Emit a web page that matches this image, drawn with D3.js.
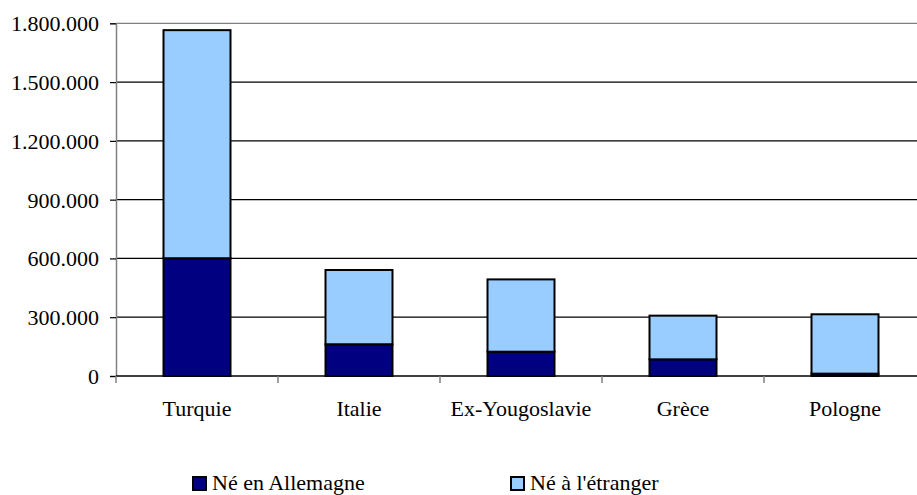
<!DOCTYPE html>
<html>
<head>
<meta charset="utf-8">
<script src="https://cdn.jsdelivr.net/npm/d3@7"></script>
<style>
  body { margin: 0; background: #fff; }
</style>
</head>
<body>
<div id="chart"></div>
<script>
const countries = ["Turquie", "Italie", "Ex-Yougoslavie", "Grèce", "Pologne"];
const bornGermany = [601000, 162000, 124000, 85000, 12000];
const bornAbroad = [1164000, 379000, 369000, 223000, 303000];
const seriesNames = ["Né en Allemagne", "Né à l'étranger"];
const seriesColors = ["#000080", "#99ccff"];
const yTicks = [0, 300000, 600000, 900000, 1200000, 1500000, 1800000];

const width = 917, height = 495;
const fontFamily = "Liberation Serif";
const fontSize = "22px";

const svg = d3.select("#chart")
    .append("svg")
    .attr("width", width)
    .attr("height", height);

const x = d3.scaleBand()
    .domain(countries)
    .range([116, 926])
    .paddingInner(0)
    .paddingOuter(0);

const y = d3.scaleLinear()
    .domain([0, 1800000])
    .range([376, 23.3]);

const fmt = (d) => d3.format(",")(d).replace(/,/g, ".");

// gridlines (top one is the grey plot border)
svg.append("g")
    .selectAll("line")
    .data(yTicks.slice(1))
    .enter()
    .append("line")
    .attr("x1", 116)
    .attr("x2", 926)
    .attr("y1", (d) => y(d))
    .attr("y2", (d) => y(d))
    .attr("stroke", (d) => d === 1800000 ? "#808080" : "#000")
    .attr("stroke-width", 1.2);

// y axis
const yAxis = svg.append("g")
    .attr("transform", "translate(116,0)")
    .call(d3.axisLeft(y).tickValues(yTicks).tickFormat(fmt).tickSize(6).tickPadding(11));
yAxis.select(".domain").attr("stroke", "#808080").attr("stroke-width", 1.5);
yAxis.selectAll(".tick line").attr("stroke", "#000").attr("stroke-width", 1.2);
yAxis.selectAll(".tick text")
    .style("font-family", fontFamily)
    .style("font-size", fontSize)
    .attr("dy", "0.34em");

// stacked data
const rows = countries.map((c, i) => ({ country: c, a: bornGermany[i], b: bornAbroad[i] }));
const stack = d3.stack().keys(["a", "b"])(rows);

const barW = 67;
svg.append("g")
    .selectAll("g")
    .data(stack)
    .enter()
    .append("g")
    .attr("fill", (d, i) => seriesColors[i])
    .selectAll("rect")
    .data((d) => d)
    .enter()
    .append("rect")
    .attr("x", (d) => x(d.data.country) + x.bandwidth() / 2 - barW / 2)
    .attr("y", (d) => y(d[1]))
    .attr("width", barW)
    .attr("height", (d) => y(d[0]) - y(d[1]))
    .attr("stroke", "#000")
    .attr("stroke-width", 2);

// x axis
svg.append("line")
    .attr("x1", 116).attr("x2", 926)
    .attr("y1", 376).attr("y2", 376)
    .attr("stroke", "#000").attr("stroke-width", 1.5);

svg.append("g")
    .selectAll("line")
    .data(countries)
    .enter()
    .append("line")
    .attr("x1", (d) => x(d))
    .attr("x2", (d) => x(d))
    .attr("y1", 376)
    .attr("y2", 383)
    .attr("stroke", "#808080")
    .attr("stroke-width", 1.5);

svg.append("g")
    .selectAll("text")
    .data(countries)
    .enter()
    .append("text")
    .attr("x", (d) => x(d) + x.bandwidth() / 2)
    .attr("y", 416)
    .attr("text-anchor", "middle")
    .style("font-family", fontFamily)
    .style("font-size", fontSize)
    .text((d) => d);

// legend
const legendX = [192, 510];
const legend = svg.append("g")
    .selectAll("g")
    .data(seriesNames)
    .enter()
    .append("g")
    .attr("transform", (d, i) => `translate(${legendX[i]},0)`);

legend.append("rect")
    .attr("x", 1)
    .attr("y", 477)
    .attr("width", 13)
    .attr("height", 13)
    .attr("fill", (d, i) => seriesColors[i])
    .attr("stroke", "#000")
    .attr("stroke-width", 2);

legend.append("text")
    .attr("x", 20)
    .attr("y", 490)
    .style("font-family", fontFamily)
    .style("font-size", fontSize)
    .text((d) => d);
</script>
</body>
</html>
